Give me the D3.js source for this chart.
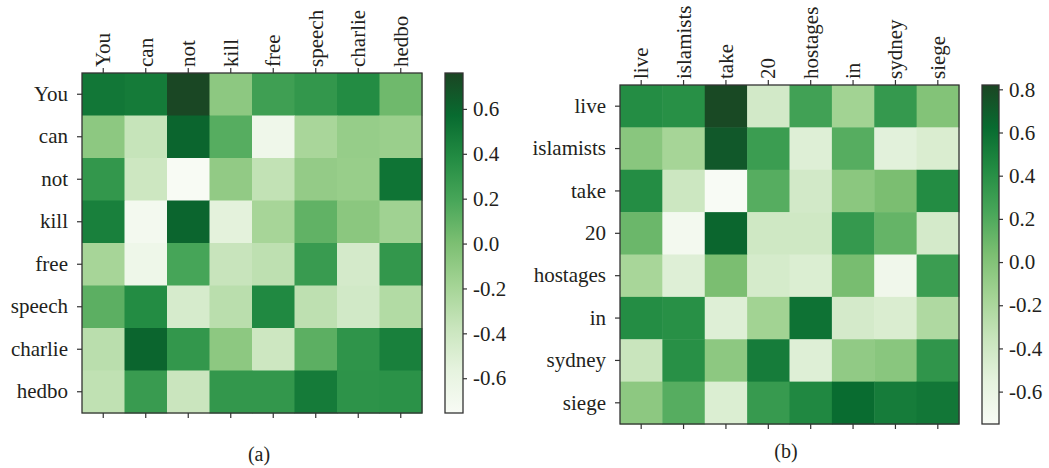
<!DOCTYPE html>
<html>
<head>
<meta charset="utf-8">
<script src="https://cdn.jsdelivr.net/npm/d3@7"></script>
<style>
    body { margin: 0; background: #fff; }
    svg { display: block; }
</style>
</head>
<body>
<svg width="1049" height="468"></svg>
<script>
// Panel (a) words and similarity values
const wordsA = ["You", "can", "not", "kill", "free", "speech", "charlie", "hedbo"];
const valuesA = [
    [0.50, 0.48, 0.75, -0.08, 0.24, 0.30, 0.38, 0.05],
    [-0.08, -0.36, 0.60, 0.14, -0.66, -0.21, -0.12, -0.14],
    [0.30, -0.40, -0.75, -0.10, -0.34, -0.11, -0.13, 0.52],
    [0.45, -0.70, 0.60, -0.55, -0.20, 0.10, -0.07, -0.17],
    [-0.20, -0.65, 0.20, -0.37, -0.32, 0.27, -0.45, 0.30],
    [0.12, 0.38, -0.46, -0.30, 0.40, -0.32, -0.43, -0.26],
    [-0.30, 0.60, 0.30, -0.08, -0.40, 0.12, 0.32, 0.45],
    [-0.33, 0.27, -0.38, 0.30, 0.30, 0.48, 0.33, 0.34]
];
const ticksA = [-0.6, -0.4, -0.2, 0.0, 0.2, 0.4, 0.6];
const rangeA = [-0.755, 0.76];

// Panel (b) words and similarity values
const wordsB = ["live", "islamists", "take", "20", "hostages", "in", "sydney", "siege"];
const valuesB = [
    [0.42, 0.40, 0.80, -0.42, 0.27, -0.15, 0.33, 0.00],
    [-0.03, -0.17, 0.72, 0.30, -0.50, 0.18, -0.53, -0.47],
    [0.42, -0.38, -0.75, 0.18, -0.42, -0.04, 0.04, 0.43],
    [0.10, -0.70, 0.65, -0.40, -0.40, 0.33, 0.12, -0.43],
    [-0.18, -0.50, 0.04, -0.44, -0.48, 0.05, -0.66, 0.30],
    [0.42, 0.40, -0.50, -0.15, 0.58, -0.43, -0.47, -0.22],
    [-0.36, 0.40, -0.05, 0.52, -0.50, -0.07, -0.03, 0.36],
    [-0.05, 0.18, -0.48, 0.32, 0.45, 0.62, 0.52, 0.55]
];
const ticksB = [-0.6, -0.4, -0.2, 0.0, 0.2, 0.4, 0.6, 0.8];
const rangeB = [-0.75, 0.82];

const captions = ["(a)", "(b)"];

// Greens colour ramp (slightly muted like the printed figure)
const greens = ["#f8fbf5", "#e6f3df", "#c9e5bd", "#a4d495", "#7cbf72", "#48a659", "#238c43", "#086b30", "#1b4523"];

const FONT = "'Liberation Serif', 'DejaVu Serif', serif";
const INK = "#231f20";

const svg = d3.select("svg");
const fmt = v => d3.format(".1f")(v).replace("\u2212", "-");

function styleAxis(ax) {
    ax.attr("font-family", FONT);
    ax.select(".domain").remove();
    ax.selectAll("line").attr("stroke", "#333").attr("stroke-width", 1.2);
    ax.selectAll("text").attr("font-size", 21).attr("fill", INK);
}

function drawHeatmap(words, values, ticks, range, caption, box) {
    const g = svg.append("g");

    const x = d3.scaleBand().domain(words).range([box.x, box.x + box.size]);
    const y = d3.scaleBand().domain(words).range([box.y, box.y + box.size]);

    const color = d3.scaleLinear()
        .domain(d3.range(greens.length).map(i => range[0] + i * (range[1] - range[0]) / (greens.length - 1)))
        .range(greens)
        .clamp(true);

    // Cells
    values.forEach((row, i) => {
        row.forEach((v, j) => {
            g.append("rect")
                .attr("x", x(words[j]))
                .attr("y", y(words[i]))
                .attr("width", x.bandwidth() + 0.5)
                .attr("height", y.bandwidth() + 0.5)
                .attr("fill", color(v));
        });
    });

    // Frame
    g.append("rect")
        .attr("x", box.x).attr("y", box.y)
        .attr("width", box.size).attr("height", box.size)
        .attr("fill", "none").attr("stroke", "#333").attr("stroke-width", 1.3);

    // Top axis with rotated labels
    const top = g.append("g")
        .attr("transform", `translate(0,${box.y})`)
        .call(d3.axisTop(x).tickSize(5));
    styleAxis(top);
    top.selectAll("text")
        .attr("text-anchor", "start")
        .attr("transform", "rotate(-90)")
        .attr("x", 6)
        .attr("y", 0)
        .attr("dy", "0.33em");

    // Bottom ticks only
    const bottom = g.append("g")
        .attr("transform", `translate(0,${box.y + box.size})`)
        .call(d3.axisBottom(x).tickSize(5).tickFormat(""));
    styleAxis(bottom);

    // Left axis
    const left = g.append("g")
        .attr("transform", `translate(${box.x},0)`)
        .call(d3.axisLeft(y).tickSize(5).tickPadding(9));
    styleAxis(left);

    // Colour bar
    const cb = svg.append("g");
    const cy = d3.scaleLinear().domain(range).range([box.y + box.size, box.y]);
    const gradId = "grad-" + caption.replace(/\W/g, "");
    const grad = svg.append("defs").append("linearGradient")
        .attr("id", gradId)
        .attr("x1", 0).attr("y1", 1).attr("x2", 0).attr("y2", 0);
    greens.forEach((c, i) => {
        grad.append("stop")
            .attr("offset", i / (greens.length - 1))
            .attr("stop-color", c);
    });
    cb.append("rect")
        .attr("x", box.cbx).attr("y", box.y)
        .attr("width", box.cbw).attr("height", box.size)
        .attr("fill", `url(#${gradId})`)
        .attr("stroke", "#333").attr("stroke-width", 1.3);

    const cbAxis = cb.append("g")
        .attr("transform", `translate(${box.cbx + box.cbw},0)`)
        .call(d3.axisRight(cy).tickValues(ticks).tickFormat(fmt).tickSize(4).tickPadding(6));
    styleAxis(cbAxis);

    // Caption
    svg.append("text")
        .attr("x", box.capx)
        .attr("y", box.capy)
        .attr("text-anchor", "middle")
        .attr("font-family", FONT)
        .attr("font-size", 20)
        .attr("fill", INK)
        .text(caption);
}

drawHeatmap(wordsA, valuesA, ticksA, rangeA, captions[0],
    {x: 82, y: 73, size: 340, cbx: 445, cbw: 18, capx: 259, capy: 461});
drawHeatmap(wordsB, valuesB, ticksB, rangeB, captions[1],
    {x: 620, y: 85, size: 339, cbx: 982, cbw: 17, capx: 786, capy: 458});
</script>
</body>
</html>
